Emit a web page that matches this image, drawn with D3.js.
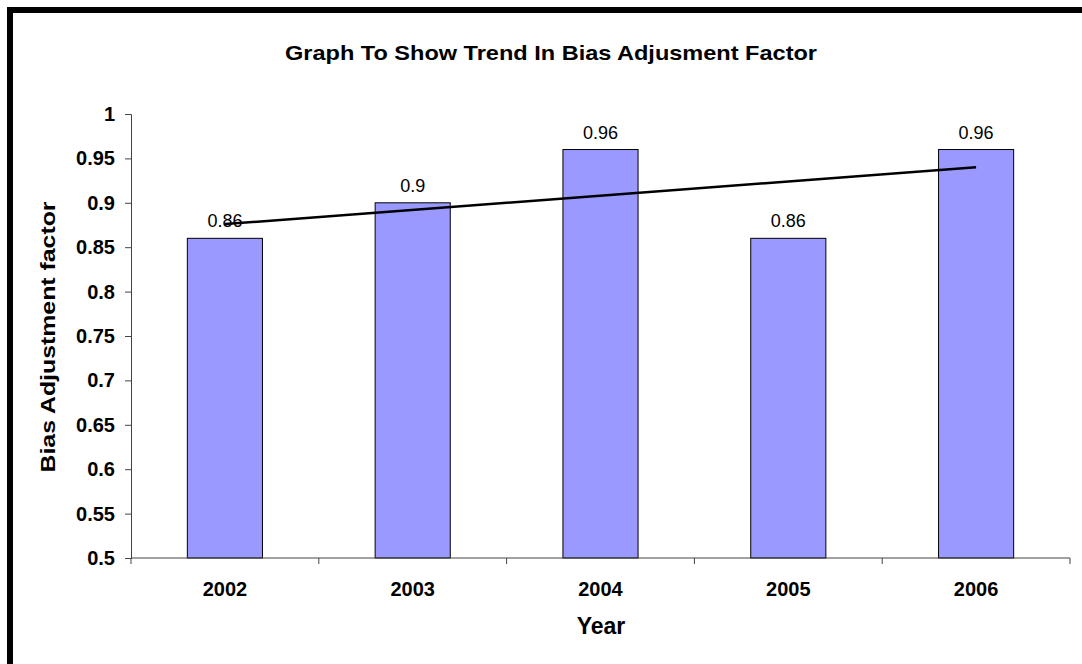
<!DOCTYPE html>
<html>
<head>
<meta charset="utf-8">
<script src="https://cdn.jsdelivr.net/npm/d3@7"></script>
<style>
  body { margin: 0; background: #fff; overflow: hidden; }
  svg { display: block; }
  text { font-family: "Liberation Sans", Arial, sans-serif; fill: #000; }
</style>
</head>
<body>
<div id="chart"></div>
<script>
// data
var years = ["2002", "2003", "2004", "2005", "2006"];
var factors = [0.86, 0.90, 0.96, 0.86, 0.96];
var yTicks = [0.5, 0.55, 0.6, 0.65, 0.7, 0.75, 0.8, 0.85, 0.9, 0.95, 1];

function init()
{
  var w = 1082;
  var h = 664;

  var svg = d3.select("#chart")
              .append("svg")
              .attr("width", w)
              .attr("height", h);

  // outer frame (only left and top edges are visible)
  svg.append("rect")
     .attr("x", 10)
     .attr("y", 10)
     .attr("width", 1200)
     .attr("height", 800)
     .attr("fill", "none")
     .attr("stroke", "#000")
     .attr("stroke-width", 6);

  var x = d3.scaleBand()
            .domain(years)
            .range([131, 1070])
            .paddingInner(0.6)
            .paddingOuter(0.3);

  var y = d3.scaleLinear()
            .domain([0.5, 1])
            .range([558, 114]);

  // bars
  svg.selectAll("rect.bar")
     .data(factors)
     .enter()
     .append("rect")
     .attr("class", "bar")
     .attr("x", function(d, i){ return x(years[i]); })
     .attr("y", function(d){ return y(d); })
     .attr("width", x.bandwidth())
     .attr("height", function(d){ return y(0.5) - y(d); })
     .attr("fill", "#9999ff")
     .attr("stroke", "#000")
     .attr("stroke-width", 1);

  // y axis
  var yAxis = svg.append("g")
     .attr("transform", "translate(131,0)")
     .call(d3.axisLeft(y).tickValues(yTicks).tickSize(6).tickPadding(10)
             .tickFormat(function(d){ return String(+d.toFixed(2)); }));
  yAxis.select(".domain").attr("stroke", "#444");
  yAxis.selectAll(".tick line").attr("stroke", "#444");
  yAxis.selectAll("text")
       .attr("font-size", 20)
       .attr("font-weight", "bold")
       .attr("fill", "#000");

  // x axis: line plus ticks on category boundaries
  var step = x.step();
  var bounds = d3.range(years.length + 1).map(function(i){ return 131 + i * step; });
  svg.append("line")
     .attr("x1", 131).attr("x2", 1070)
     .attr("y1", y(0.5)).attr("y2", y(0.5))
     .attr("stroke", "#444");
  svg.selectAll("line.xtick")
     .data(bounds)
     .enter()
     .append("line")
     .attr("class", "xtick")
     .attr("x1", function(d){ return d; })
     .attr("x2", function(d){ return d; })
     .attr("y1", y(0.5))
     .attr("y2", y(0.5) + 6)
     .attr("stroke", "#444");

  svg.selectAll("text.xlab")
     .data(years)
     .enter()
     .append("text")
     .attr("class", "xlab")
     .attr("x", function(d){ return x(d) + x.bandwidth() / 2; })
     .attr("y", 596)
     .attr("text-anchor", "middle")
     .attr("font-size", 20)
     .attr("font-weight", "bold")
     .text(function(d){ return d; });

  // value labels
  svg.selectAll("text.val")
     .data(factors)
     .enter()
     .append("text")
     .attr("class", "val")
     .attr("x", function(d, i){ return x(years[i]) + x.bandwidth() / 2; })
     .attr("y", function(d){ return y(d) - 11; })
     .attr("text-anchor", "middle")
     .attr("font-size", 18)
     .text(function(d){ return String(d); });

  // linear trendline (least squares over category index)
  var n = factors.length;
  var mx = d3.mean(d3.range(n));
  var my = d3.mean(factors);
  var slope = d3.sum(factors, function(d, i){ return (i - mx) * (d - my); }) /
              d3.sum(d3.range(n), function(i){ return (i - mx) * (i - mx); });
  var trend = [0, n - 1].map(function(i){ return [i, my + slope * (i - mx)]; });
  svg.append("path")
     .datum(trend)
     .attr("fill", "none")
     .attr("stroke", "#000")
     .attr("stroke-width", 2.5)
     .attr("d", d3.line()
        .x(function(d){ return x(years[d[0]]) + x.bandwidth() / 2; })
        .y(function(d){ return y(d[1]); }));

  // titles (the original text is slightly stretched horizontally)
  svg.append("text")
     .attr("x", 551)
     .attr("y", 60)
     .attr("text-anchor", "middle")
     .attr("font-size", 21)
     .attr("font-weight", "bold")
     .attr("textLength", 532)
     .attr("lengthAdjust", "spacingAndGlyphs")
     .text("Graph To Show Trend In Bias Adjusment Factor");

  svg.append("text")
     .attr("x", 601)
     .attr("y", 634)
     .attr("text-anchor", "middle")
     .attr("font-size", 23)
     .attr("font-weight", "bold")
     .text("Year");

  svg.append("text")
     .attr("transform", "translate(55,337) rotate(-90)")
     .attr("text-anchor", "middle")
     .attr("font-size", 21)
     .attr("font-weight", "bold")
     .attr("textLength", 271)
     .attr("lengthAdjust", "spacingAndGlyphs")
     .text("Bias Adjustment factor");
}

window.onload = init;
</script>
</body>
</html>
